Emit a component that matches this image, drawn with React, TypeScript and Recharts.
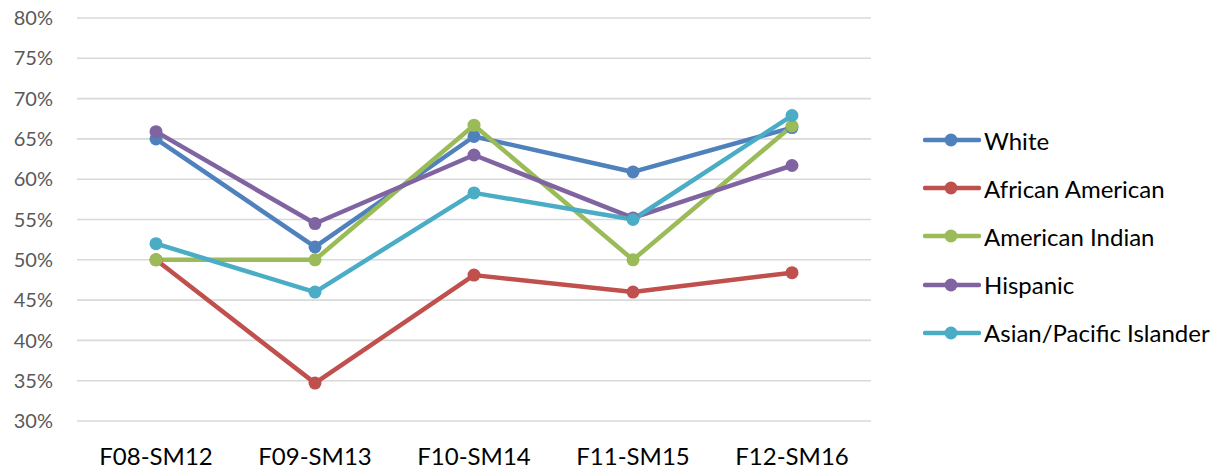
import { LineChart, Line, XAxis, YAxis, CartesianGrid } from "recharts";

const terms = ["F08-SM12", "F09-SM13", "F10-SM14", "F11-SM15", "F12-SM16"];

const white = [65.0, 51.6, 65.3, 60.9, 66.4];
const africanAmerican = [50.0, 34.7, 48.1, 46.0, 48.4];
const americanIndian = [50.0, 50.0, 66.7, 50.0, 66.6];
const hispanic = [65.9, 54.5, 63.0, 55.2, 61.7];
const asianPacific = [52.0, 46.0, 58.3, 55.0, 67.9];

const yTicks = [30, 35, 40, 45, 50, 55, 60, 65, 70, 75, 80];

const series = [
  { key: "white", name: "White", color: "#4F81BD", values: white },
  { key: "aa", name: "African American", color: "#C0504D", values: africanAmerican },
  { key: "ai", name: "American Indian", color: "#9BBB59", values: americanIndian },
  { key: "hisp", name: "Hispanic", color: "#8064A2", values: hispanic },
  { key: "asian", name: "Asian/Pacific Islander", color: "#4BACC6", values: asianPacific },
];

const data = terms.map((term, i) => {
  const row: Record<string, any> = { term };
  series.forEach((s) => {
    row[s.key] = s.values[i];
  });
  return row;
});

const font = "Lato, 'Open Sans', sans-serif";

function ChartLegend() {
  return (
    <div style={{ position: "absolute", left: 923, top: 116, fontFamily: font }}>
      {series.map((s) => (
        <div key={s.key} style={{ display: "flex", alignItems: "center", height: 48.2 }}>
          <svg width={58} height={16} style={{ marginRight: 3 }}>
            <line x1={2} y1={8} x2={56} y2={8} stroke={s.color} strokeWidth={4.5} strokeLinecap="round" />
            <circle cx={28} cy={8} r={6.5} fill={s.color} />
          </svg>
          <span style={{ fontSize: 24, color: "#000", whiteSpace: "nowrap" }}>{s.name}</span>
        </div>
      ))}
    </div>
  );
}

export default function App() {
  return (
    <div style={{ position: "absolute", left: 0, top: 0, width: 1218, height: 471, background: "#fff" }}>
      <LineChart
        width={1218}
        height={471}
        data={data}
        margin={{ top: 18, right: 347, bottom: 0, left: 0 }}
      >
        <CartesianGrid vertical={false} stroke="#D9D9D9" strokeWidth={1.6} />
        <XAxis
          dataKey="term"
          height={50}
          axisLine={false}
          tickLine={false}
          tickSize={0}
          tickMargin={27}
          padding={{ left: 79, right: 79 }}
          tick={{ fill: "#000", fontSize: 24, fontFamily: font }}
        />
        <YAxis
          width={77}
          domain={[30, 80]}
          ticks={yTicks}
          interval={0}
          axisLine={false}
          tickLine={false}
          tickSize={0}
          tickMargin={24}
          tickFormatter={(v) => `${v}%`}
          tick={{ fill: "#595959", fontSize: 20, fontFamily: font }}
        />
        {series.map((s) => (
          <Line
            key={s.key}
            dataKey={s.key}
            name={s.name}
            type="linear"
            stroke={s.color}
            strokeWidth={4.5}
            strokeLinejoin="round"
            dot={{ r: 6.5, fill: s.color, stroke: "none" }}
            isAnimationActive={false}
          />
        ))}
      </LineChart>
      <ChartLegend />
    </div>
  );
}
